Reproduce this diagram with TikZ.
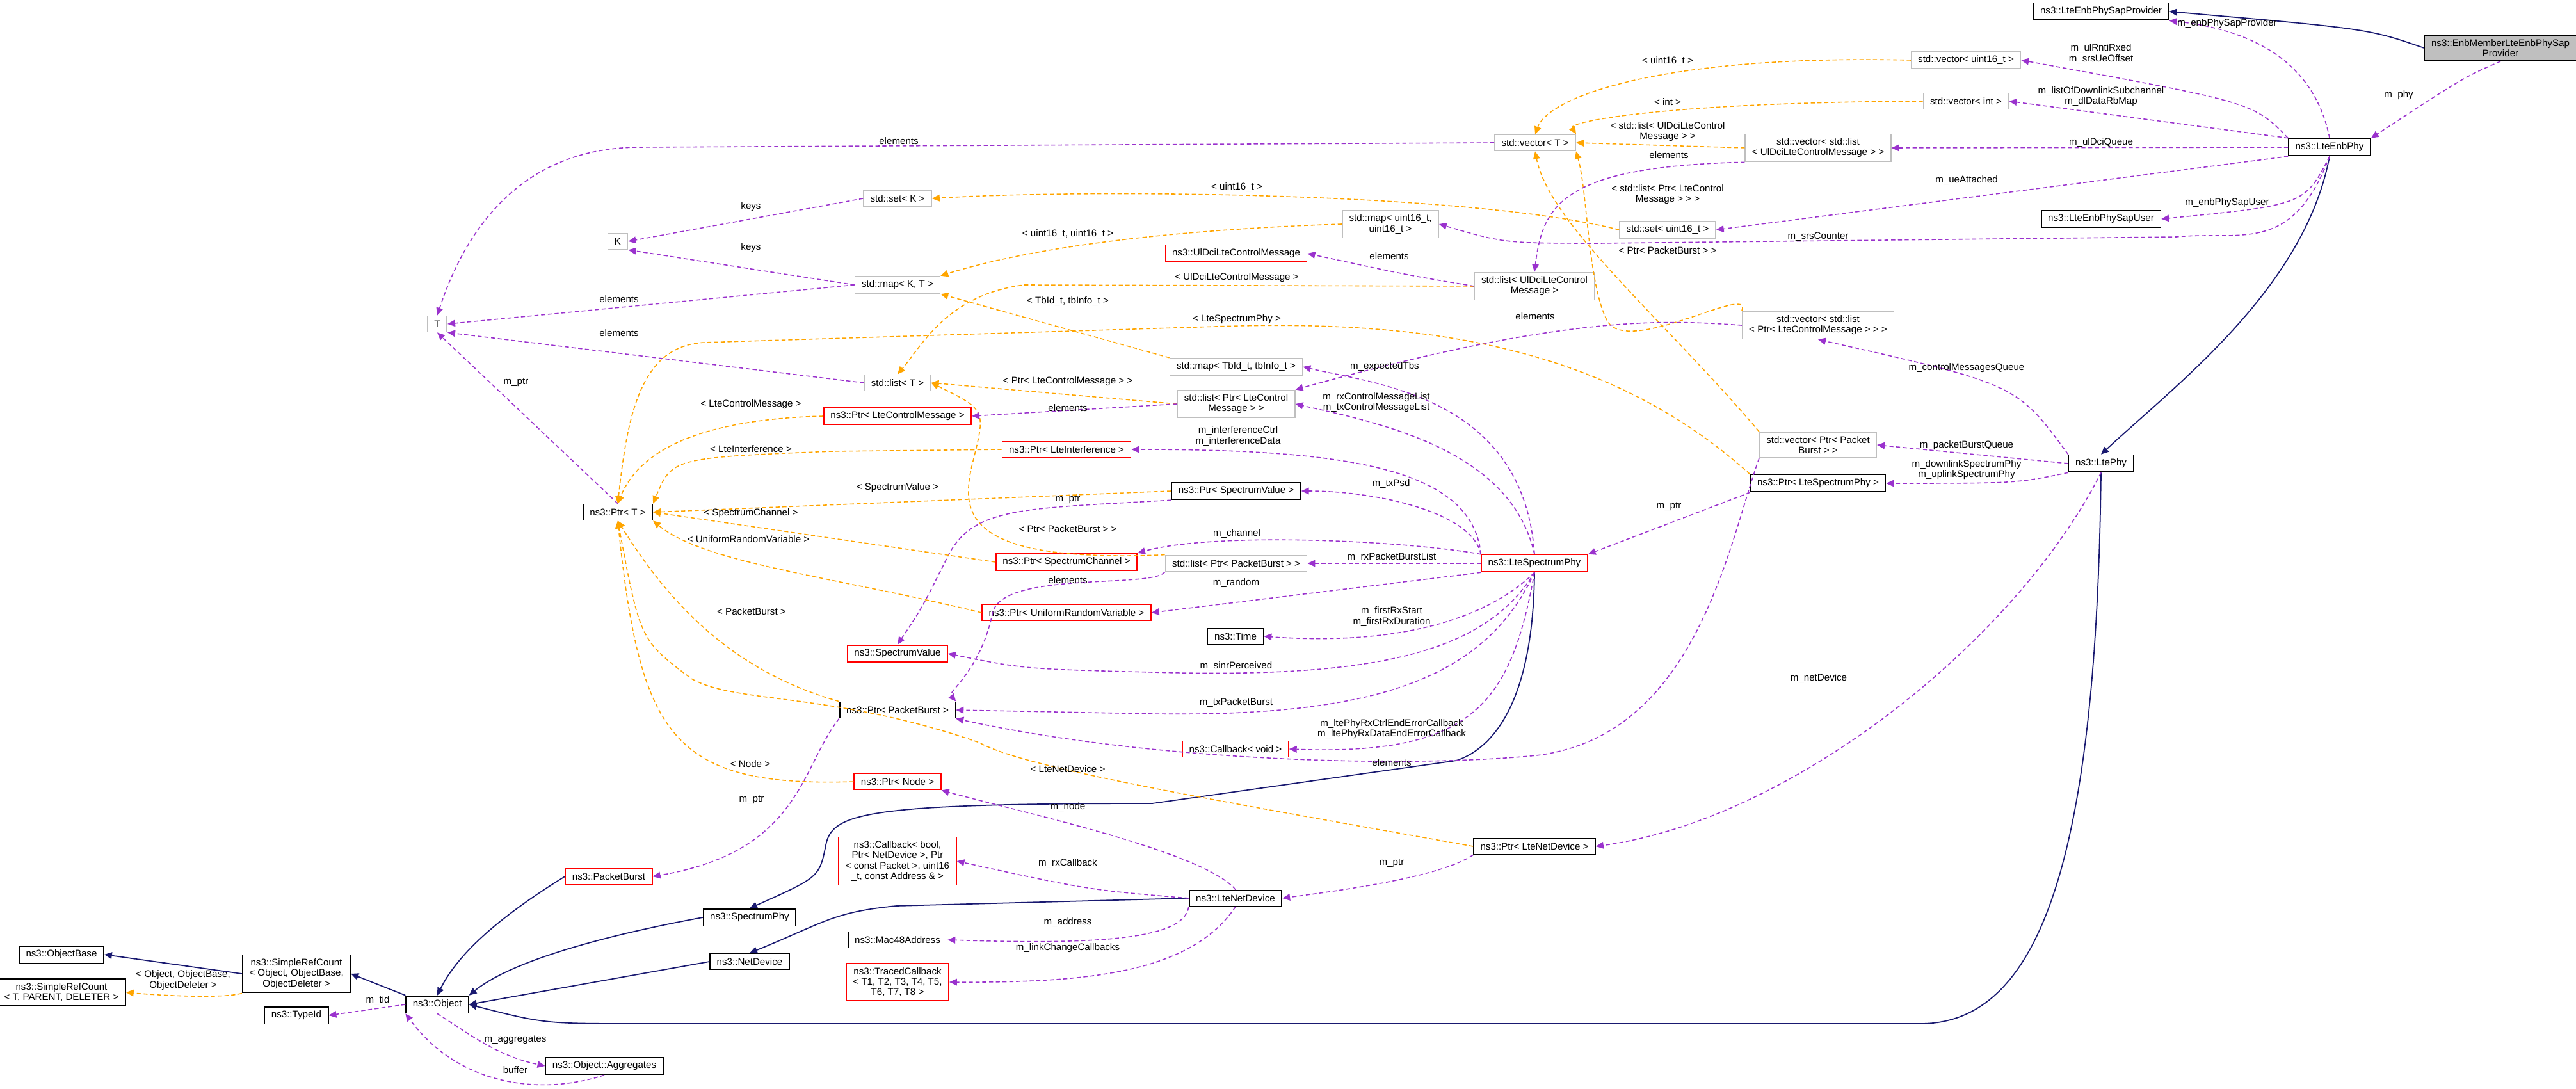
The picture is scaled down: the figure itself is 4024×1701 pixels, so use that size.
\documentclass[tikz,border=0pt]{standalone}
\usepackage{fontspec}
\setmainfont{Liberation Sans}
\usetikzlibrary{arrows.meta}
\definecolor{pur}{HTML}{9A32CD}
\definecolor{org}{HTML}{FFA500}
\definecolor{nav}{HTML}{191970}
\definecolor{redb}{HTML}{FF0000}
\definecolor{gryb}{HTML}{BFBFBF}
\tikzset{
 box/.style={draw, line width=0.5pt, align=center, inner xsep=3pt, inner ysep=1.8pt, minimum height=0.25cm, font=\fontsize{4.3}{4.6}\selectfont, fill=white},
 doc/.style={box, draw=black},
 ext/.style={box, draw=gryb},
 redn/.style={box, draw=redb},
 lbl/.style={align=center, inner sep=0.5pt, font=\fontsize{4.3}{4.6}\selectfont},
 tip/.style={-{Triangle[length=3.4pt,width=3pt]}},
 pe/.style={tip, draw=pur, line width=0.45pt, dash pattern=on 1.8pt off 1.2pt},
 oe/.style={tip, draw=org, line width=0.45pt, dash pattern=on 1.8pt off 1.2pt},
 ie/.style={tip, draw=nav, line width=0.5pt},
}
\begin{document}
\begin{tikzpicture}[x=0.01cm,y=-0.01cm]
\useasboundingbox (0,0) rectangle (4024,1701);
% nodes
\node[doc, fill=gryb] (enbm) at (3906,75) {ns3::EnbMemberLteEnbPhySap\\Provider};
\node[doc] (sapprov) at (3282,18) {ns3::LteEnbPhySapProvider};
\node[doc] (enbphy) at (3639,230) {ns3::LteEnbPhy};
\node[doc] (sapuser) at (3282,342) {ns3::LteEnbPhySapUser};
\node[doc] (ltephy) at (3282,724) {ns3::LtePhy};
\node[ext] (vuint) at (3071,94) {std::vector\textless{} uint16\_t \textgreater{}};
\node[ext] (vint) at (3071,158) {std::vector\textless{} int \textgreater{}};
\node[ext] (vt) at (2398,223) {std::vector\textless{} T \textgreater{}};
\node[ext] (vldci) at (2840,231) {std::vector\textless{} std::list\\\textless{} UlDciLteControlMessage \textgreater{} \textgreater{}};
\node[ext] (suint) at (2605,359) {std::set\textless{} uint16\_t \textgreater{}};
\node[ext] (muu) at (2172,350) {std::map\textless{} uint16\_t,\\ uint16\_t \textgreater{}};
\node[ext] (lldci) at (2397,447) {std::list\textless{} UlDciLteControl\\Message \textgreater{}};
\node[ext] (vlcm) at (2840,508) {std::vector\textless{} std::list\\\textless{} Ptr\textless{} LteControlMessage \textgreater{} \textgreater{} \textgreater{}};
\node[ext] (vppb) at (2840,695) {std::vector\textless{} Ptr\textless{} Packet\\Burst \textgreater{} \textgreater{}};
\node[doc] (plsp) at (2840,755) {ns3::Ptr\textless{} LteSpectrumPhy \textgreater{}};
\node[redn] (lsp) at (2397,880) {ns3::LteSpectrumPhy};
\node[doc] (plnd) at (2397,1322) {ns3::Ptr\textless{} LteNetDevice \textgreater{}};
\node[redn] (ulcm) at (1931,396) {ns3::UlDciLteControlMessage};
\node[ext] (mtb) at (1931,573) {std::map\textless{} TbId\_t, tbInfo\_t \textgreater{}};
\node[ext] (llcm) at (1931,631) {std::list\textless{} Ptr\textless{} LteControl\\Message \textgreater{} \textgreater{}};
\node[doc] (psv) at (1931,767) {ns3::Ptr\textless{} SpectrumValue \textgreater{}};
\node[ext] (lpb) at (1931,880) {std::list\textless{} Ptr\textless{} PacketBurst \textgreater{} \textgreater{}};
\node[doc] (time) at (1930,994) {ns3::Time};
\node[redn] (cbv) at (1930,1170) {ns3::Callback\textless{} void \textgreater{}};
\node[doc] (lnd) at (1930,1403) {ns3::LteNetDevice};
\node[redn] (pli) at (1666,702) {ns3::Ptr\textless{} LteInterference \textgreater{}};
\node[redn] (psc) at (1666,878) {ns3::Ptr\textless{} SpectrumChannel \textgreater{}};
\node[redn] (purv) at (1666,957) {ns3::Ptr\textless{} UniformRandomVariable \textgreater{}};
\node[ext] (setk) at (1402,310) {std::set\textless{} K \textgreater{}};
\node[ext] (mapkt) at (1402,445) {std::map\textless{} K, T \textgreater{}};
\node[ext] (listt) at (1402,598) {std::list\textless{} T \textgreater{}};
\node[redn] (plcm) at (1402,650) {ns3::Ptr\textless{} LteControlMessage \textgreater{}};
\node[redn] (sv) at (1402,1021) {ns3::SpectrumValue};
\node[doc] (ppb) at (1402,1109) {ns3::Ptr\textless{} PacketBurst \textgreater{}};
\node[redn] (pnode) at (1402,1221) {ns3::Ptr\textless{} Node \textgreater{}};
\node[redn] (cbb) at (1402,1345) {ns3::Callback\textless{} bool,\\ Ptr\textless{} NetDevice \textgreater{}, Ptr\\\textless{} const Packet \textgreater{}, uint16\\\_t, const Address \& \textgreater{}};
\node[doc] (mac) at (1402,1468) {ns3::Mac48Address};
\node[redn] (tcb) at (1402,1534) {ns3::TracedCallback\\\textless{} T1, T2, T3, T4, T5,\\ T6, T7, T8 \textgreater{}};
\node[doc] (sphy) at (1171,1433) {ns3::SpectrumPhy};
\node[doc] (ndev) at (1171,1502) {ns3::NetDevice};
\node[redn] (pb) at (951,1369) {ns3::PacketBurst};
\node[doc] (ptrt) at (965,800) {ns3::Ptr\textless{} T \textgreater{}};
\node[ext] (K) at (965,377) {K};
\node[ext] (T) at (683,506) {T};
\node[doc] (obj) at (683,1569) {ns3::Object};
\node[doc] (agg) at (944,1665) {ns3::Object::Aggregates};
\node[doc] (tid) at (463,1586) {ns3::TypeId};
\node[doc] (srco) at (463,1521) {ns3::SimpleRefCount\\\textless{} Object, ObjectBase,\\ ObjectDeleter \textgreater{}};
\node[doc] (obase) at (96,1491) {ns3::ObjectBase};
\node[doc] (srct) at (96,1550) {ns3::SimpleRefCount\\\textless{} T, PARENT, DELETER \textgreater{}};

% inheritance
\draw[ie] (enbm.west) .. controls (3700,45) .. (sapprov.east);
\draw[ie] (enbphy.south) .. controls (3600,450) and (3400,600) .. (ltephy.north);
\draw[ie] (ltephy.south) .. controls (3275,1300) and (3200,1599) .. (3000,1599) -- (1000,1599) .. controls (850,1599) .. (obj.east);
\draw[ie] (lsp.south) .. controls (2395,1100) and (2330,1170) .. (2275,1188) -- (1800,1255) .. controls (1350,1255) and (1300,1270) .. (1290,1320) .. controls (1280,1370) .. (sphy.north);
\draw[ie] (lnd.west) -- (1400,1415) .. controls (1300,1425) and (1290,1440) .. (ndev.north);
\draw[ie] (sphy.west) .. controls (950,1460) and (800,1500) .. (obj.north east);
\draw[ie] (ndev.west) -- (obj.east);
\draw[ie] (pb.west) .. controls (800,1420) and (720,1480) .. (obj.north);
\draw[ie] (obj.north west) -- (srco.east);
\draw[ie] (srco.west) -- (obase.east);
\draw[oe] (srco.south west) .. controls (350,1560) and (250,1555) .. (srct.east);
\node[lbl] at (286,1531) {\textless{} Object, ObjectBase,\\ ObjectDeleter \textgreater{}};
\draw[pe] (obj.west) -- (tid.east); \node[lbl] at (590,1563) {m\_tid};
\draw[pe] (obj.south) .. controls (740,1620) and (780,1650) .. (agg.west); \node[lbl] at (805,1624) {m\_aggregates};
\draw[pe] (agg.south) .. controls (850,1710) and (720,1700) .. (obj.south west); \node[lbl] at (805,1671) {buffer};

% enb phy
\draw[pe] (enbm.south) .. controls (3850,120) .. (enbphy.north east); \node[lbl] at (3747,149) {m\_phy};
\draw[pe] (enbphy.north) .. controls (3620,120) and (3550,50) .. (sapprov.south east); \node[lbl] at (3479,37) {m\_enbPhySapProvider};
\draw[pe] (enbphy.north west) .. controls (3520,160) .. (vuint.east); \node[lbl] at (3282,84) {m\_ulRntiRxed\\m\_srsUeOffset};
\draw[pe] (enbphy.north west) -- (vint.east); \node[lbl] at (3282,151) {m\_listOfDownlinkSubchannel\\m\_dlDataRbMap};
\draw[pe] (enbphy.west) -- (vldci.east); \node[lbl] at (3282,223) {m\_ulDciQueue};
\draw[pe] (enbphy.south west) -- (suint.east); \node[lbl] at (3072,282) {m\_ueAttached};
\draw[pe] (enbphy.south) .. controls (3600,320) .. (sapuser.east); \node[lbl] at (3479,317) {m\_enbPhySapUser};
\draw[pe] (enbphy.south) .. controls (3580,400) and (3500,360) .. (3400,370) -- (2500,380) .. controls (2350,380) .. (muu.east); \node[lbl] at (2840,370) {m\_srsCounter};
\draw[pe] (ltephy.north west) .. controls (3150,600) .. (vlcm.south); \node[lbl] at (3072,575) {m\_controlMessagesQueue};
\draw[pe] (ltephy.west) -- (vppb.east); \node[lbl] at (3072,696) {m\_packetBurstQueue};
\draw[pe] (ltephy.south west) .. controls (3150,755) .. (plsp.east); \node[lbl] at (3072,734) {m\_downlinkSpectrumPhy\\m\_uplinkSpectrumPhy};
\draw[pe] (ltephy.south) .. controls (3150,1000) and (2800,1280) .. (plnd.east); \node[lbl] at (2841,1060) {m\_netDevice};
\draw[pe] (plsp.south west) -- (lsp.north east); \node[lbl] at (2607,791) {m\_ptr};

% template vectors
\draw[oe] (vuint.west) .. controls (2600,85) and (2420,150) .. (vt.north); \node[lbl] at (2605,96) {\textless{} uint16\_t \textgreater{}};
\draw[oe] (vint.west) .. controls (2600,160) and (2450,190) .. (vt.north east); \node[lbl] at (2605,159) {\textless{} int \textgreater{}};
\draw[oe] (vldci.west) -- (vt.east); \node[lbl] at (2605,206) {\textless{} std::list\textless{} UlDciLteControl\\Message \textgreater{} \textgreater{}};
\draw[oe] (vlcm.north west) .. controls (2740,440) and (2540,560) .. (2510,500) .. controls (2480,440) and (2480,300) .. (vt.south east); \node[lbl] at (2605,304) {\textless{} std::list\textless{} Ptr\textless{} LteControl\\Message \textgreater{} \textgreater{} \textgreater{}};
\draw[oe] (vppb.north west) .. controls (2600,500) and (2420,350) .. (vt.south); \node[lbl] at (2605,391) {\textless{} Ptr\textless{} PacketBurst \textgreater{} \textgreater{}};
\draw[pe] (vt.west) -- (1000,230) .. controls (800,230) and (720,380) .. (T.north); \node[lbl] at (1404,220) {elements};
\draw[pe] (vldci.south west) .. controls (2440,260) and (2410,320) .. (lldci.north); \node[lbl] at (2607,242) {elements};
\draw[pe] (vlcm.west) .. controls (2600,500) and (2450,490) .. (llcm.north east); \node[lbl] at (2398,494) {elements};
\draw[pe] (vppb.south west) .. controls (2700,850) and (2650,1150) .. (2400,1180) .. controls (2200,1200) and (1800,1190) .. (ppb.south east); \node[lbl] at (2174,1191) {elements};

% std containers
\draw[oe] (suint.west) .. controls (2300,300) and (1700,295) .. (setk.east); \node[lbl] at (1932,293) {\textless{} uint16\_t \textgreater{}};
\draw[oe] (muu.west) .. controls (1800,360) and (1600,390) .. (mapkt.north east); \node[lbl] at (1668,366) {\textless{} uint16\_t, uint16\_t \textgreater{}};
\draw[oe] (lldci.west) -- (1600,445) .. controls (1480,460) and (1440,540) .. (listt.north); \node[lbl] at (1932,434) {\textless{} UlDciLteControlMessage \textgreater{}};
\draw[oe] (mtb.north west) -- (mapkt.south east); \node[lbl] at (1668,471) {\textless{} TbId\_t, tbInfo\_t \textgreater{}};
\draw[oe] (plsp.north west) .. controls (2500,530) and (2200,500) .. (1900,510) -- (1100,535) .. controls (1000,540) and (980,650) .. (ptrt.north); \node[lbl] at (1932,499) {\textless{} LteSpectrumPhy \textgreater{}};
\draw[oe] (llcm.west) -- (listt.east); \node[lbl] at (1668,596) {\textless{} Ptr\textless{} LteControlMessage \textgreater{} \textgreater{}};
\draw[oe] (lpb.north west) .. controls (1500,880) and (1500,800) .. (1520,720) .. controls (1540,640) .. (listt.east); \node[lbl] at (1668,826) {\textless{} Ptr\textless{} PacketBurst \textgreater{} \textgreater{}};
\draw[pe] (setk.west) -- (K.east); \node[lbl] at (1173,323) {keys};
\draw[pe] (mapkt.west) -- (K.south east); \node[lbl] at (1173,387) {keys};
\draw[pe] (mapkt.west) -- (T.east); \node[lbl] at (967,467) {elements};
\draw[pe] (listt.west) -- (T.south east); \node[lbl] at (967,520) {elements};
\draw[pe] (ptrt.north) -- (T.south); \node[lbl] at (806,597) {m\_ptr};
\draw[pe] (lldci.west) .. controls (2200,430) .. (ulcm.east); \node[lbl] at (2170,400) {elements};
\draw[pe] (llcm.west) -- (plcm.east); \node[lbl] at (1668,637) {elements};
\draw[pe] (lpb.south west) .. controls (1800,920) and (1560,890) .. (1550,960) .. controls (1530,1050) and (1480,1080) .. (ppb.north east); \node[lbl] at (1668,906) {elements};
\draw[pe] (psv.south west) .. controls (1600,795) and (1520,790) .. (1480,870) .. controls (1440,950) .. (sv.north); \node[lbl] at (1668,780) {m\_ptr};
\draw[pe] (ppb.south west) .. controls (1250,1200) and (1250,1330) .. (pb.east); \node[lbl] at (1174,1249) {m\_ptr};
\draw[pe] (plnd.south west) .. controls (2250,1370) and (2100,1390) .. (lnd.east); \node[lbl] at (2174,1348) {m\_ptr};

% Ptr<T> instantiations
\draw[oe] (plcm.west) .. controls (1100,655) and (1000,700) .. (ptrt.north); \node[lbl] at (1173,632) {\textless{} LteControlMessage \textgreater{}};
\draw[oe] (pli.west) -- (1300,705) .. controls (1050,715) .. (ptrt.north east); \node[lbl] at (1173,701) {\textless{} LteInterference \textgreater{}};
\draw[oe] (psv.west) -- (ptrt.east); \node[lbl] at (1402,762) {\textless{} SpectrumValue \textgreater{}};
\draw[oe] (psc.west) -- (ptrt.east); \node[lbl] at (1173,802) {\textless{} SpectrumChannel \textgreater{}};
\draw[oe] (purv.west) .. controls (1300,900) and (1100,880) .. (ptrt.south east); \node[lbl] at (1169,842) {\textless{} UniformRandomVariable \textgreater{}};
\draw[oe] (ppb.north west) .. controls (1150,1050) and (1050,950) .. (ptrt.south); \node[lbl] at (1174,955) {\textless{} PacketBurst \textgreater{}};
\draw[oe] (pnode.west) .. controls (1050,1230) and (1000,1150) .. (ptrt.south); \node[lbl] at (1172,1193) {\textless{} Node \textgreater{}};
\draw[oe] (plnd.west) .. controls (1900,1250) and (1600,1200) .. (1530,1160) .. controls (1300,1080) and (1150,1100) .. (1080,1060) .. controls (1000,1000) .. (ptrt.south); \node[lbl] at (1668,1201) {\textless{} LteNetDevice \textgreater{}};

% LteSpectrumPhy members
\draw[pe] (lsp.north) .. controls (2380,620) and (2150,600) .. (mtb.east); \node[lbl] at (2163,573) {m\_expectedTbs};
\draw[pe] (lsp.north) .. controls (2360,700) and (2150,660) .. (llcm.east); \node[lbl] at (2150,629) {m\_rxControlMessageList\\m\_txControlMessageList};
\draw[pe] (lsp.north west) .. controls (2300,730) and (2100,702) .. (pli.east); \node[lbl] at (1934,681) {m\_interferenceCtrl\\m\_interferenceData};
\draw[pe] (lsp.north west) .. controls (2300,800) and (2150,767) .. (psv.east); \node[lbl] at (2173,756) {m\_txPsd};
\draw[pe] (lsp.north west) .. controls (2200,845) and (1900,830) .. (psc.north east); \node[lbl] at (1932,834) {m\_channel};
\draw[pe] (lsp.west) -- (lpb.east); \node[lbl] at (2174,871) {m\_rxPacketBurstList};
\draw[pe] (lsp.south west) -- (purv.east); \node[lbl] at (1931,911) {m\_random};
\draw[pe] (lsp.south) .. controls (2330,960) and (2200,1010) .. (time.east); \node[lbl] at (2174,963) {m\_firstRxStart\\m\_firstRxDuration};
\draw[pe] (lsp.south) .. controls (2320,1020) and (2150,1060) .. (1800,1050) .. controls (1600,1045) .. (sv.east); \node[lbl] at (1931,1041) {m\_sinrPerceived};
\draw[pe] (lsp.south) .. controls (2320,1060) and (2150,1120) .. (1800,1115) -- (ppb.east); \node[lbl] at (1931,1098) {m\_txPacketBurst};
\draw[pe] (lsp.south) .. controls (2360,1100) and (2300,1180) .. (cbv.east); \node[lbl] at (2174,1139) {m\_ltePhyRxCtrlEndErrorCallback\\m\_ltePhyRxDataEndErrorCallback};

% LteNetDevice members
\draw[pe] (lnd.north) .. controls (1880,1330) and (1600,1270) .. (pnode.south east); \node[lbl] at (1668,1261) {m\_node};
\draw[pe] (lnd.west) .. controls (1700,1390) .. (cbb.east); \node[lbl] at (1668,1349) {m\_rxCallback};
\draw[pe] (lnd.south west) .. controls (1850,1470) and (1700,1475) .. (mac.east); \node[lbl] at (1668,1441) {m\_address};
\draw[pe] (lnd.south) .. controls (1860,1520) and (1700,1535) .. (tcb.east); \node[lbl] at (1668,1481) {m\_linkChangeCallbacks};
\end{tikzpicture}
\end{document}
